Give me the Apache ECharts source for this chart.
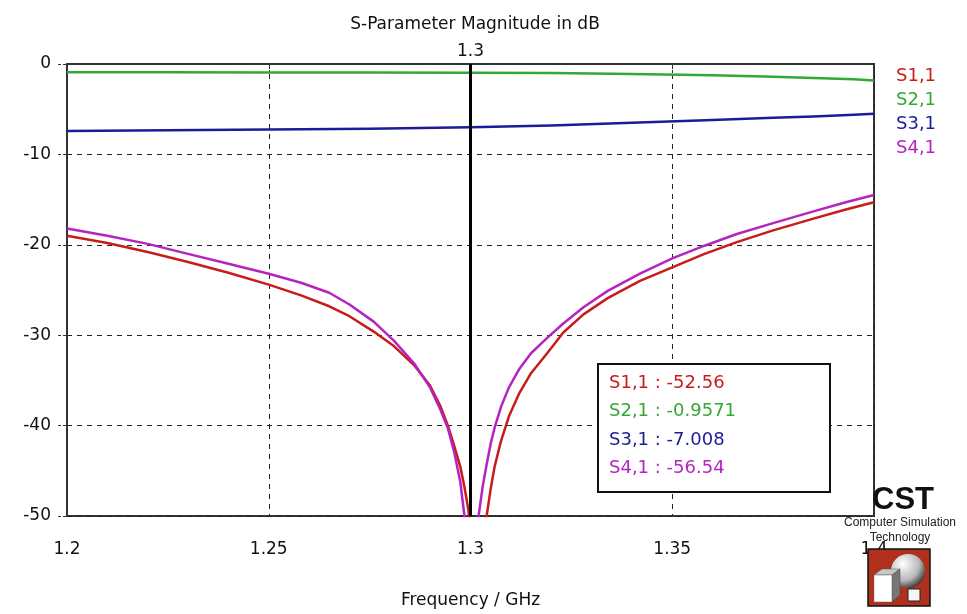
<!DOCTYPE html>
<html>
<head>
    <meta charset="utf-8">
    <title>S-Parameter Magnitude</title>
    <style>
        html,body{width:100%;height:100%;margin:0;padding:0;overflow:hidden;background:#fff;}
        #main{width:967px;height:614px;}
    </style>
    <script src="https://cdn.jsdelivr.net/npm/echarts@6/dist/echarts.min.js"></script>
</head>
<body>
<div id="main"></div>

<script type="text/javascript">
    // frequency (GHz) points for the reflection curves
    var freqS = [1.2, 1.21, 1.22, 1.23, 1.24, 1.25, 1.258, 1.265, 1.27, 1.276, 1.281, 1.286,
        1.29, 1.2925, 1.2944, 1.296, 1.2975, 1.2985, 1.2995, 1.3, 1.3005, 1.301, 1.3015, 1.302,
        1.303, 1.304, 1.305, 1.306, 1.3075, 1.3095, 1.312, 1.315, 1.319, 1.323, 1.328, 1.334,
        1.342, 1.35, 1.358, 1.366, 1.375, 1.385, 1.393, 1.4];
    var s11 = [-19.0, -19.8, -20.8, -21.9, -23.1, -24.4, -25.6, -26.8, -27.9, -29.6, -31.2, -33.3,
        -35.6, -37.8, -40.0, -42.3, -44.6, -46.8, -49.4, -52.56, -55.5, -59.0, -62.0, -60.0,
        -54.5, -50.0, -47.0, -44.5, -41.8, -39.0, -36.5, -34.2, -32.0, -29.7, -27.7, -25.9,
        -24.0, -22.5, -21.0, -19.7, -18.4, -17.1, -16.1, -15.3];
    var s41 = [-18.2, -19.0, -19.9, -21.0, -22.1, -23.2, -24.2, -25.3, -26.6, -28.5, -30.6, -33.1,
        -35.8, -38.2, -40.3, -43.0, -46.3, -50.0, -53.5, -56.54, -61.0, -59.0, -54.5, -50.0,
        -46.8, -44.3, -42.0, -40.2, -38.0, -35.8, -33.8, -32.0, -30.3, -28.7, -26.9, -25.1,
        -23.2, -21.5, -20.1, -18.8, -17.6, -16.3, -15.3, -14.5];

    // transmission curves
    var freqT = [1.2, 1.225, 1.25, 1.275, 1.3, 1.32, 1.34, 1.36, 1.375, 1.385, 1.395, 1.4];
    var s21 = [-0.92, -0.92, -0.93, -0.94, -0.9571, -1.0, -1.12, -1.25, -1.4, -1.55, -1.7, -1.82];
    var s31 = [-7.4, -7.33, -7.25, -7.15, -7.008, -6.8, -6.5, -6.2, -5.95, -5.8, -5.62, -5.5];

    var names = ['S1,1', 'S2,1', 'S3,1', 'S4,1'];
    var colors = ['#c81c1c', '#34a834', '#1c1c98', '#b424c0'];
    var markerFreq = 1.3;
    var markerVals = ['-52.56', '-0.9571', '-7.008', '-56.54'];

    var yTicks = [0, -10, -20, -30, -40, -50];

    function pairs(xs, ys) {
        return xs.map(function (x, i) { return [x, ys[i]]; });
    }

    var font = 'DejaVu Sans';
    var myChart = echarts.init(document.getElementById('main'));

    var seriesData = [pairs(freqS, s11), pairs(freqT, s21), pairs(freqT, s31), pairs(freqS, s41)];
    var series = names.map(function (n, i) {
        return {
            name: n,
            type: 'line',
            data: seriesData[i],
            showSymbol: false,
            smooth: false,
            clip: true,
            lineStyle: {color: colors[i], width: 2.5, join: 'round'},
            itemStyle: {color: colors[i]},
            z: 3
        };
    });
    // the frequency marker
    series[0].markLine = {
        silent: true,
        symbol: 'none',
        lineStyle: {color: '#000', width: 3, type: 'solid'},
        label: {show: true, position: 'end', formatter: String(markerFreq), color: '#111',
            fontFamily: font, fontSize: 17, distance: 4},
        data: [{xAxis: markerFreq}]
    };

    // readout box
    var boxChildren = [{
        type: 'rect', z: 10,
        shape: {x: 0, y: 0, width: 232, height: 128},
        style: {fill: '#fff', stroke: '#111', lineWidth: 2}
    }];
    names.forEach(function (n, i) {
        boxChildren.push({
            type: 'text', z: 11,
            x: 11, y: 19 + i * 28.6,
            style: {text: n + ' : ' + markerVals[i], fill: colors[i], font: '18px "DejaVu Sans"',
                textVerticalAlign: 'middle'}
        });
    });

    var option = {
        backgroundColor: '#fff',
        animation: false,
        title: {
            text: 'S-Parameter Magnitude in dB',
            left: 470, top: 11, textAlign: 'center',
            textStyle: {fontFamily: font, fontSize: 17, fontWeight: 'normal', color: '#111'}
        },
        legend: {
            orient: 'vertical',
            left: 891, top: 67,
            icon: 'none',
            itemWidth: 0, itemHeight: 0, itemGap: 6,
            padding: 0,
            selectedMode: false,
            textStyle: {fontFamily: font, fontSize: 18},
            data: names.map(function (n, i) { return {name: n, textStyle: {color: colors[i]}}; })
        },
        grid: {
            left: 67, right: 93, top: 64, bottom: 88,
            show: true, borderColor: '#333', borderWidth: 2, backgroundColor: 'transparent'
        },
        xAxis: {
            type: 'value',
            min: 1.2, max: 1.4, interval: 0.05,
            name: 'Frequency / GHz',
            nameLocation: 'middle',
            nameGap: 76,
            nameTextStyle: {fontFamily: font, fontSize: 17, color: '#111'},
            axisLine: {show: true, lineStyle: {color: '#333', width: 2}},
            axisTick: {show: true, length: 9, lineStyle: {color: '#333', type: 'dashed'}},
            axisLabel: {
                fontFamily: font, fontSize: 17, color: '#111', margin: 25,
                formatter: function (v) { return String(+v.toFixed(2)); }
            },
            splitLine: {show: true, lineStyle: {color: '#222', type: [5, 5], width: 1}}
        },
        yAxis: {
            type: 'value',
            min: -50, max: 0, interval: 10,
            axisLine: {show: true, lineStyle: {color: '#333', width: 2}},
            axisTick: {show: true, length: 9, lineStyle: {color: '#333', type: 'dashed'}},
            axisLabel: {
                fontFamily: font, fontSize: 17, color: '#111', margin: 16,
                padding: [0, 0, 16, 0],
                formatter: function (v) { return yTicks.indexOf(v) >= 0 ? String(v) : ''; }
            },
            splitLine: {show: true, lineStyle: {color: '#222', type: [5, 5], width: 1}}
        },
        graphic: [
            {type: 'group', left: 597, top: 363, z: 10, children: boxChildren},
            // CST logo
            {type: 'text', x: 903, y: 500, z: 20,
                style: {text: 'CST', font: 'bold 31px "Liberation Sans"', fill: '#111',
                    textAlign: 'center', textVerticalAlign: 'middle'}},
            {type: 'text', x: 900, y: 523, z: 20,
                style: {text: 'Computer Simulation', font: '12px "Liberation Sans"', fill: '#222',
                    textAlign: 'center', textVerticalAlign: 'middle'}},
            {type: 'text', x: 900, y: 538, z: 20,
                style: {text: 'Technology', font: '12px "Liberation Sans"', fill: '#222',
                    textAlign: 'center', textVerticalAlign: 'middle'}},
            {type: 'group', x: 868, y: 549, z: 20, children: [
                {type: 'rect', z: 20, shape: {x: 0, y: 0, width: 62, height: 57},
                    style: {fill: '#b0301c', stroke: '#111', lineWidth: 1.5}},
                {type: 'circle', z: 21, shape: {cx: 40, cy: 22, r: 17},
                    style: {fill: new echarts.graphic.RadialGradient(0.35, 0.3, 0.8, [
                        {offset: 0, color: '#ffffff'}, {offset: 0.6, color: '#b8b8b8'},
                        {offset: 1, color: '#202020'}])}},
                {type: 'polygon', z: 22, shape: {points: [[6, 26], [14, 20], [32, 20], [24, 26]]},
                    style: {fill: '#c8c8c8', stroke: '#555', lineWidth: 0.5}},
                {type: 'polygon', z: 22, shape: {points: [[24, 26], [32, 20], [32, 46], [24, 53]]},
                    style: {fill: '#777', stroke: '#444', lineWidth: 0.5}},
                {type: 'rect', z: 22, shape: {x: 6, y: 26, width: 18, height: 27},
                    style: {fill: '#fff', stroke: '#666', lineWidth: 0.5}},
                {type: 'rect', z: 22, shape: {x: 40, y: 40, width: 12, height: 12},
                    style: {fill: '#f4f4f4', stroke: '#222', lineWidth: 1}}
            ]}
        ],
        series: series
    };

    myChart.setOption(option);
</script>
</body>
</html>
